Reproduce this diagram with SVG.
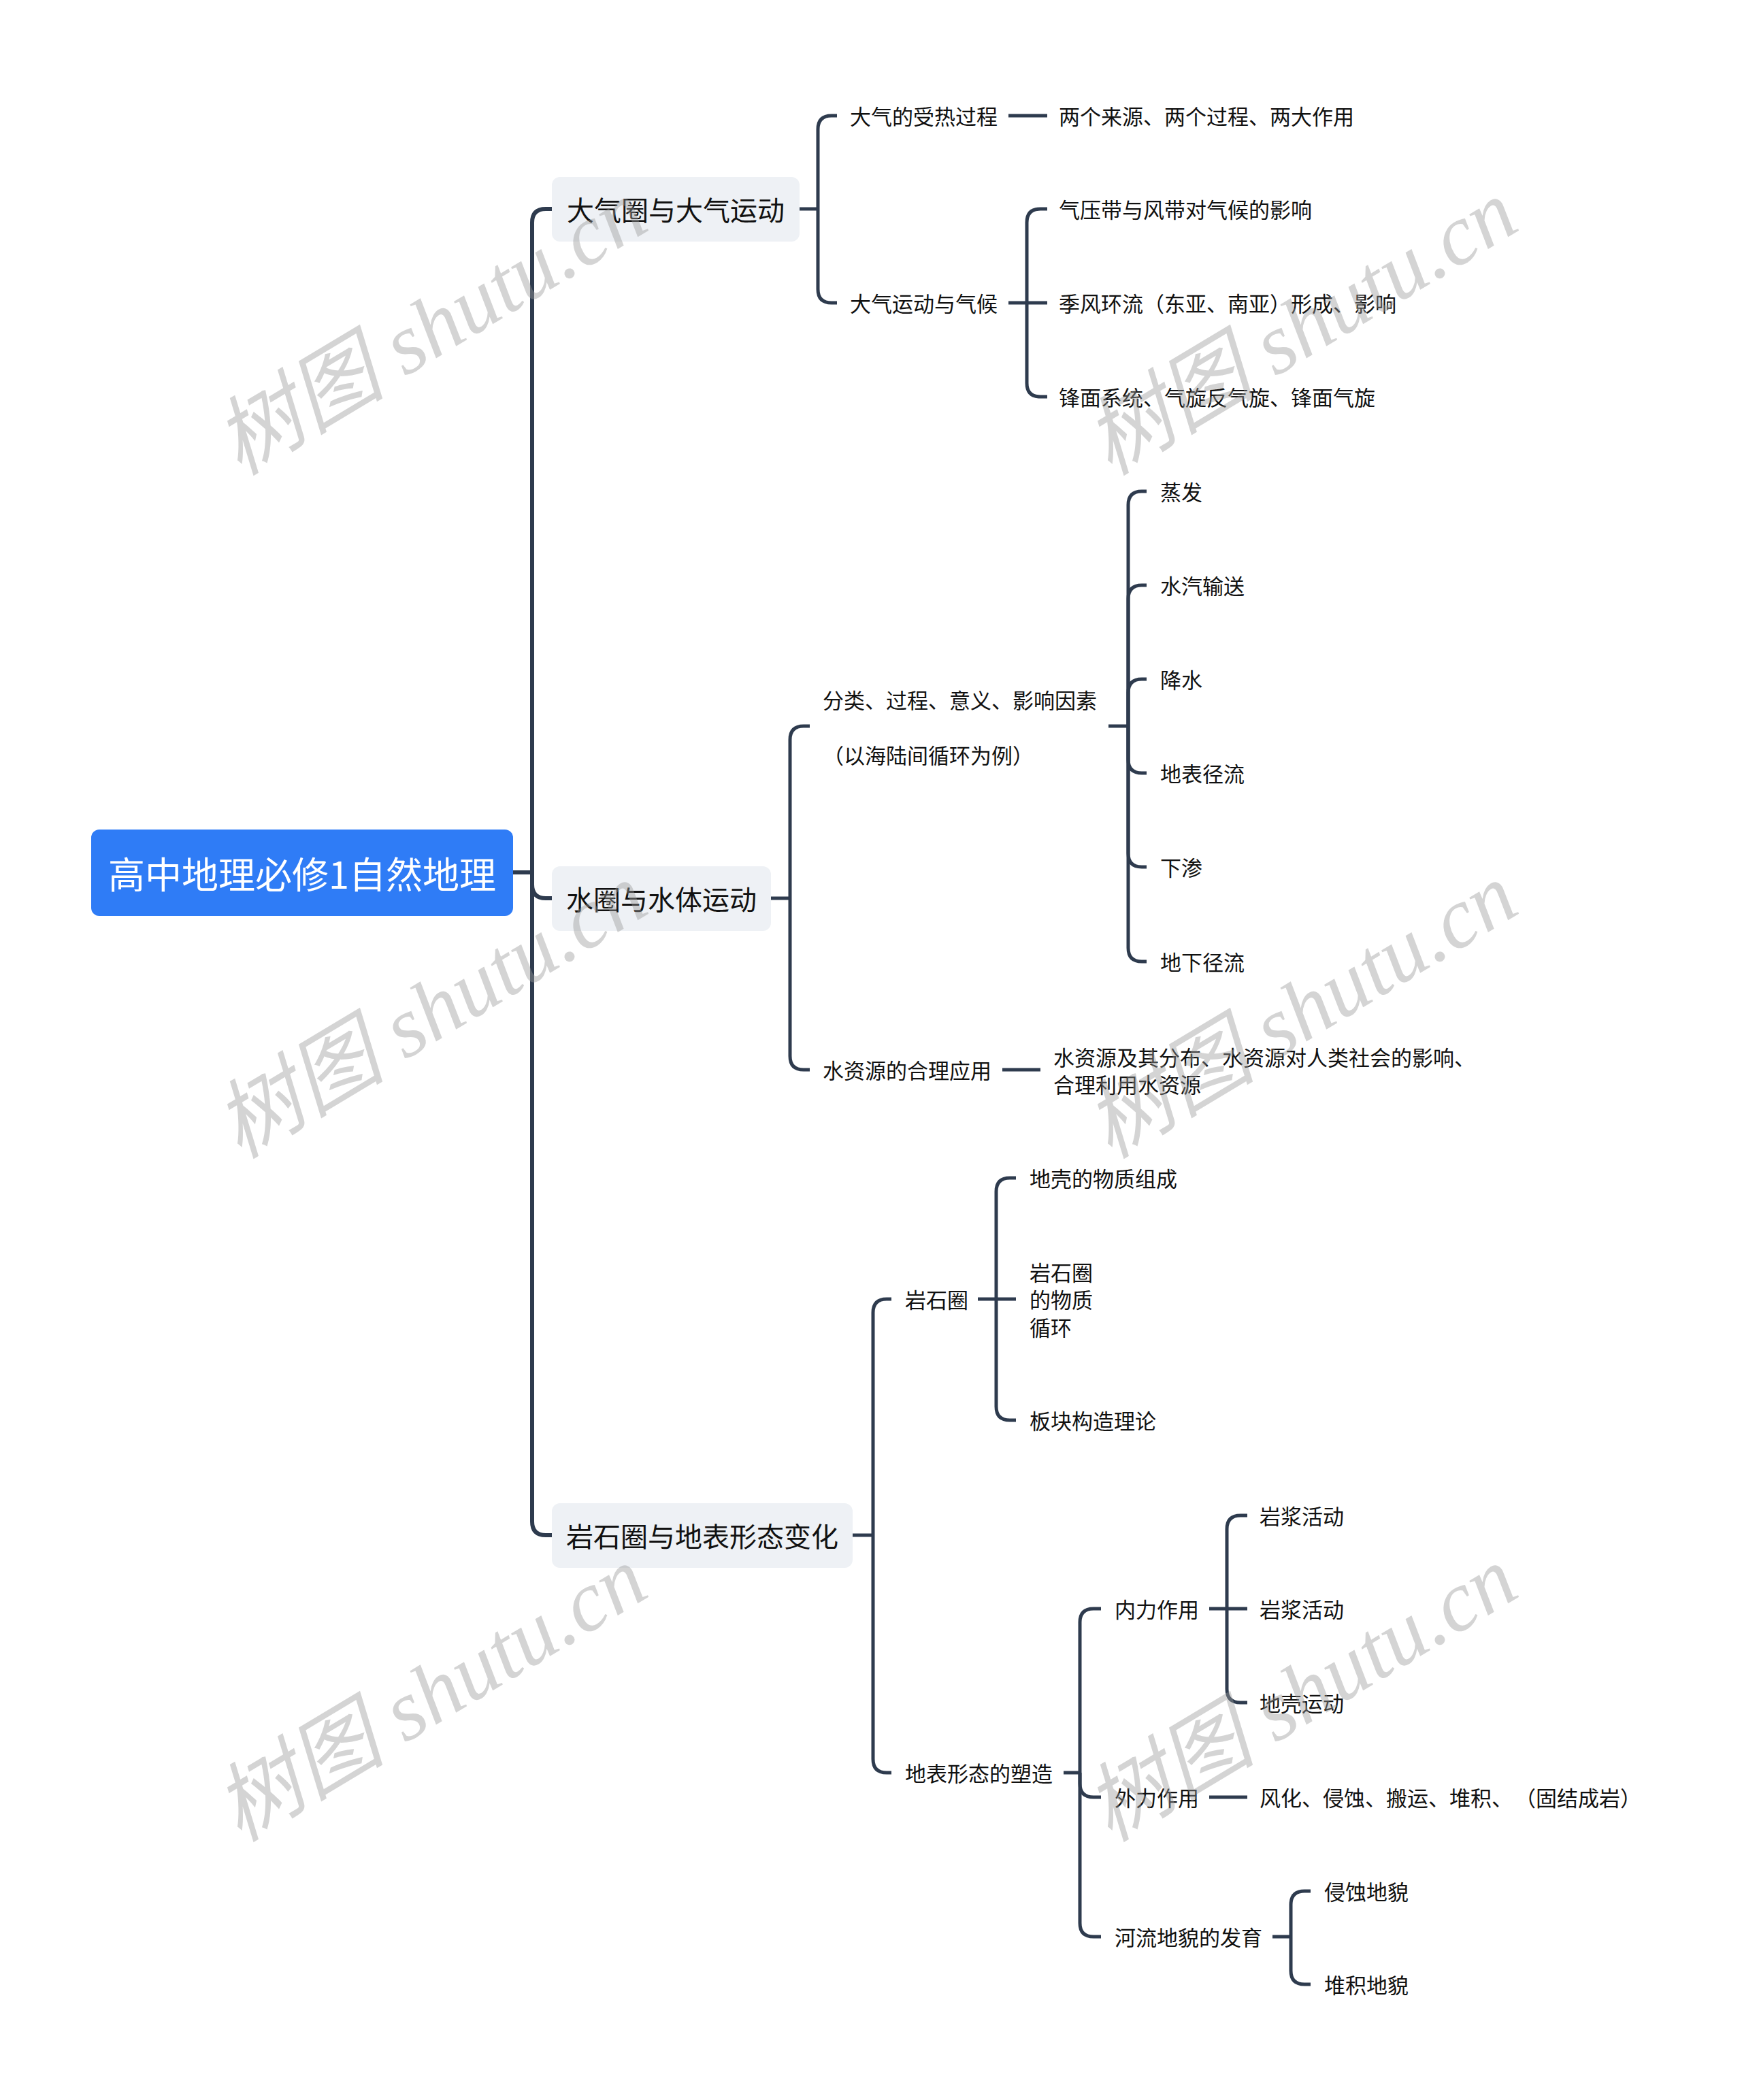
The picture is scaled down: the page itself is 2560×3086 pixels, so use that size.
<svg xmlns="http://www.w3.org/2000/svg" width="2560" height="3086" viewBox="0 0 2560 3086">
<style>
.bg{fill:#ffffff}
.root-box{fill:#2F7CF6}
.root-text{font-family:"Noto Sans CJK SC","Noto Sans",sans-serif;font-size:54px;fill:#ffffff;text-anchor:middle;dominant-baseline:central}
.l1-box{fill:#EEF1F5}
.l1-text{font-family:"Noto Sans CJK SC","Noto Sans",sans-serif;font-size:40px;fill:#111111;text-anchor:middle;dominant-baseline:central}
.t{font-family:"Noto Sans CJK SC","Noto Sans",sans-serif;font-size:31px;fill:#111111;dominant-baseline:central}
.c0{fill:none;stroke:#2E3B4E;stroke-width:6}
.c{fill:none;stroke:#2E3B4E;stroke-width:5}
.wm{font-family:"Liberation Serif","Noto Sans CJK SC",serif;font-style:italic;font-size:126px;fill:#9a9a9a;opacity:0.42}
</style>
<rect class="bg" x="0" y="0" width="2560" height="3086"/>

<g id="connectors">
  <path class="c0" d="M754,1282 H782"/>
  <path class="c0" d="M782,1282 V327 Q782,307 802,307 H811"/>
  <path class="c0" d="M782,1282 V1300 Q782,1320 802,1320 H811"/>
  <path class="c0" d="M782,1282 V2236 Q782,2256 802,2256 H811"/>
  <path class="c" d="M1175,307 H1202"/>
  <path class="c" d="M1202,307 V190 Q1202,170 1222,170 H1230"/>
  <path class="c" d="M1202,307 V425 Q1202,445 1222,445 H1230"/>
  <path class="c" d="M1482,170 H1539"/>
  <path class="c" d="M1482,445 H1509"/>
  <path class="c" d="M1509,445 V327 Q1509,307 1529,307 H1539"/>
  <path class="c" d="M1509,445 H1539"/>
  <path class="c" d="M1509,445 V563 Q1509,583 1529,583 H1539"/>
  <path class="c" d="M1133,1320 H1161"/>
  <path class="c" d="M1161,1320 V1087 Q1161,1067 1181,1067 H1190"/>
  <path class="c" d="M1161,1320 V1552 Q1161,1572 1181,1572 H1190"/>
  <path class="c" d="M1629,1067 H1658"/>
  <path class="c" d="M1658,1067 V742 Q1658,722 1678,722 H1685"/>
  <path class="c" d="M1658,1067 V880 Q1658,860 1678,860 H1685"/>
  <path class="c" d="M1658,1067 V1018 Q1658,998 1678,998 H1685"/>
  <path class="c" d="M1658,1067 V1116 Q1658,1136 1678,1136 H1685"/>
  <path class="c" d="M1658,1067 V1254 Q1658,1274 1678,1274 H1685"/>
  <path class="c" d="M1658,1067 V1393 Q1658,1413 1678,1413 H1685"/>
  <path class="c" d="M1473,1572 H1529"/>
  <path class="c" d="M1253,2256 H1283"/>
  <path class="c" d="M1283,2256 V1929 Q1283,1909 1303,1909 H1310"/>
  <path class="c" d="M1283,2256 V2585 Q1283,2605 1303,2605 H1310"/>
  <path class="c" d="M1437,1909 H1464"/>
  <path class="c" d="M1464,1909 V1751 Q1464,1731 1484,1731 H1493"/>
  <path class="c" d="M1464,1909 H1493"/>
  <path class="c" d="M1464,1909 V2067 Q1464,2087 1484,2087 H1493"/>
  <path class="c" d="M1563,2605 H1587"/>
  <path class="c" d="M1587,2605 V2384 Q1587,2364 1607,2364 H1618"/>
  <path class="c" d="M1587,2605 V2621 Q1587,2641 1607,2641 H1618"/>
  <path class="c" d="M1587,2605 V2826 Q1587,2846 1607,2846 H1618"/>
  <path class="c" d="M1777,2364 H1803"/>
  <path class="c" d="M1803,2364 V2247 Q1803,2227 1823,2227 H1833"/>
  <path class="c" d="M1803,2364 H1833"/>
  <path class="c" d="M1803,2364 V2482 Q1803,2502 1823,2502 H1833"/>
  <path class="c" d="M1777,2641 H1833"/>
  <path class="c" d="M1870,2846 H1897"/>
  <path class="c" d="M1897,2846 V2799 Q1897,2779 1917,2779 H1926"/>
  <path class="c" d="M1897,2846 V2896 Q1897,2916 1917,2916 H1926"/>
</g>

<g id="root">
  <rect class="root-box" x="134" y="1219" width="620" height="127" rx="12"/>
  <text class="root-text" x="444" y="1282">高中地理必修1自然地理</text>
</g>

<g id="n-daqiquan">
  <rect class="l1-box" x="811" y="260" width="364" height="95" rx="12"/>
  <text class="l1-text" x="993" y="307">大气圈与大气运动</text>
</g>
<g id="n-shuiquan">
  <rect class="l1-box" x="811" y="1273" width="322" height="95" rx="12"/>
  <text class="l1-text" x="972" y="1320">水圈与水体运动</text>
</g>
<g id="n-yanshiquan-dibiao">
  <rect class="l1-box" x="811" y="2209" width="442" height="95" rx="12"/>
  <text class="l1-text" x="1032" y="2256">岩石圈与地表形态变化</text>
</g>

<g id="n-shoure"><text class="t" x="1249" y="169">大气的受热过程</text></g>
<g id="n-liangge"><text class="t" x="1556" y="169">两个来源、两个过程、两大作用</text></g>
<g id="n-yundong"><text class="t" x="1249" y="444">大气运动与气候</text></g>
<g id="n-qiya"><text class="t" x="1556" y="306">气压带与风带对气候的影响</text></g>
<g id="n-jifeng"><text class="t" x="1556" y="444">季风环流（东亚、南亚）形成、影响</text></g>
<g id="n-fengmian"><text class="t" x="1556" y="582">锋面系统、气旋反气旋、锋面气旋</text></g>

<g id="n-fenlei">
  <text class="t" x="1209" y="1027">分类、过程、意义、影响因素</text>
  <text class="t" x="1209" y="1108">（以海陆间循环为例）</text>
</g>
<g id="n-zhengfa"><text class="t" x="1705" y="721">蒸发</text></g>
<g id="n-shuiqi"><text class="t" x="1705" y="859">水汽输送</text></g>
<g id="n-jiangshui"><text class="t" x="1705" y="997">降水</text></g>
<g id="n-dibiao"><text class="t" x="1705" y="1135">地表径流</text></g>
<g id="n-xiashen"><text class="t" x="1705" y="1273">下渗</text></g>
<g id="n-dixia"><text class="t" x="1705" y="1412">地下径流</text></g>
<g id="n-shuiziyuan"><text class="t" x="1209" y="1571">水资源的合理应用</text></g>
<g id="n-shuiziyuan-detail">
  <text class="t" x="1548" y="1552">水资源及其分布、水资源对人类社会的影响、</text>
  <text class="t" x="1548" y="1592">合理利用水资源</text>
</g>

<g id="n-yanshiquan"><text class="t" x="1330" y="1908">岩石圈</text></g>
<g id="n-diqiao"><text class="t" x="1513" y="1730">地壳的物质组成</text></g>
<g id="n-xunhuan">
  <text class="t" x="1513" y="1868">岩石圈</text>
  <text class="t" x="1513" y="1908">的物质</text>
  <text class="t" x="1513" y="1949">循环</text>
</g>
<g id="n-bankuai"><text class="t" x="1513" y="2086">板块构造理论</text></g>
<g id="n-suzao"><text class="t" x="1330" y="2604">地表形态的塑造</text></g>
<g id="n-neili"><text class="t" x="1638" y="2363">内力作用</text></g>
<g id="n-yanjiang1"><text class="t" x="1851" y="2226">岩浆活动</text></g>
<g id="n-yanjiang2"><text class="t" x="1851" y="2363">岩浆活动</text></g>
<g id="n-diqiaoyundong"><text class="t" x="1851" y="2501">地壳运动</text></g>
<g id="n-waili"><text class="t" x="1638" y="2640">外力作用</text></g>
<g id="n-fenghua">
  <text class="t" x="1851" y="2640">风化、侵蚀、搬运、堆积、</text>
  <text class="t" x="2226" y="2640">（固结成岩）</text>
</g>
<g id="n-heliu"><text class="t" x="1638" y="2845">河流地貌的发育</text></g>
<g id="n-qinshi"><text class="t" x="1946" y="2778">侵蚀地貌</text></g>
<g id="n-duiji"><text class="t" x="1946" y="2915">堆积地貌</text></g>

<g id="watermarks">
  <text class="wm" transform="translate(352,700) rotate(-31)">树图 shutu.cn</text>
  <text class="wm" transform="translate(1631,700) rotate(-31)">树图 shutu.cn</text>
  <text class="wm" transform="translate(352,1704) rotate(-31)">树图 shutu.cn</text>
  <text class="wm" transform="translate(1631,1704) rotate(-31)">树图 shutu.cn</text>
  <text class="wm" transform="translate(352,2708) rotate(-31)">树图 shutu.cn</text>
  <text class="wm" transform="translate(1631,2708) rotate(-31)">树图 shutu.cn</text>
</g>
</svg>
